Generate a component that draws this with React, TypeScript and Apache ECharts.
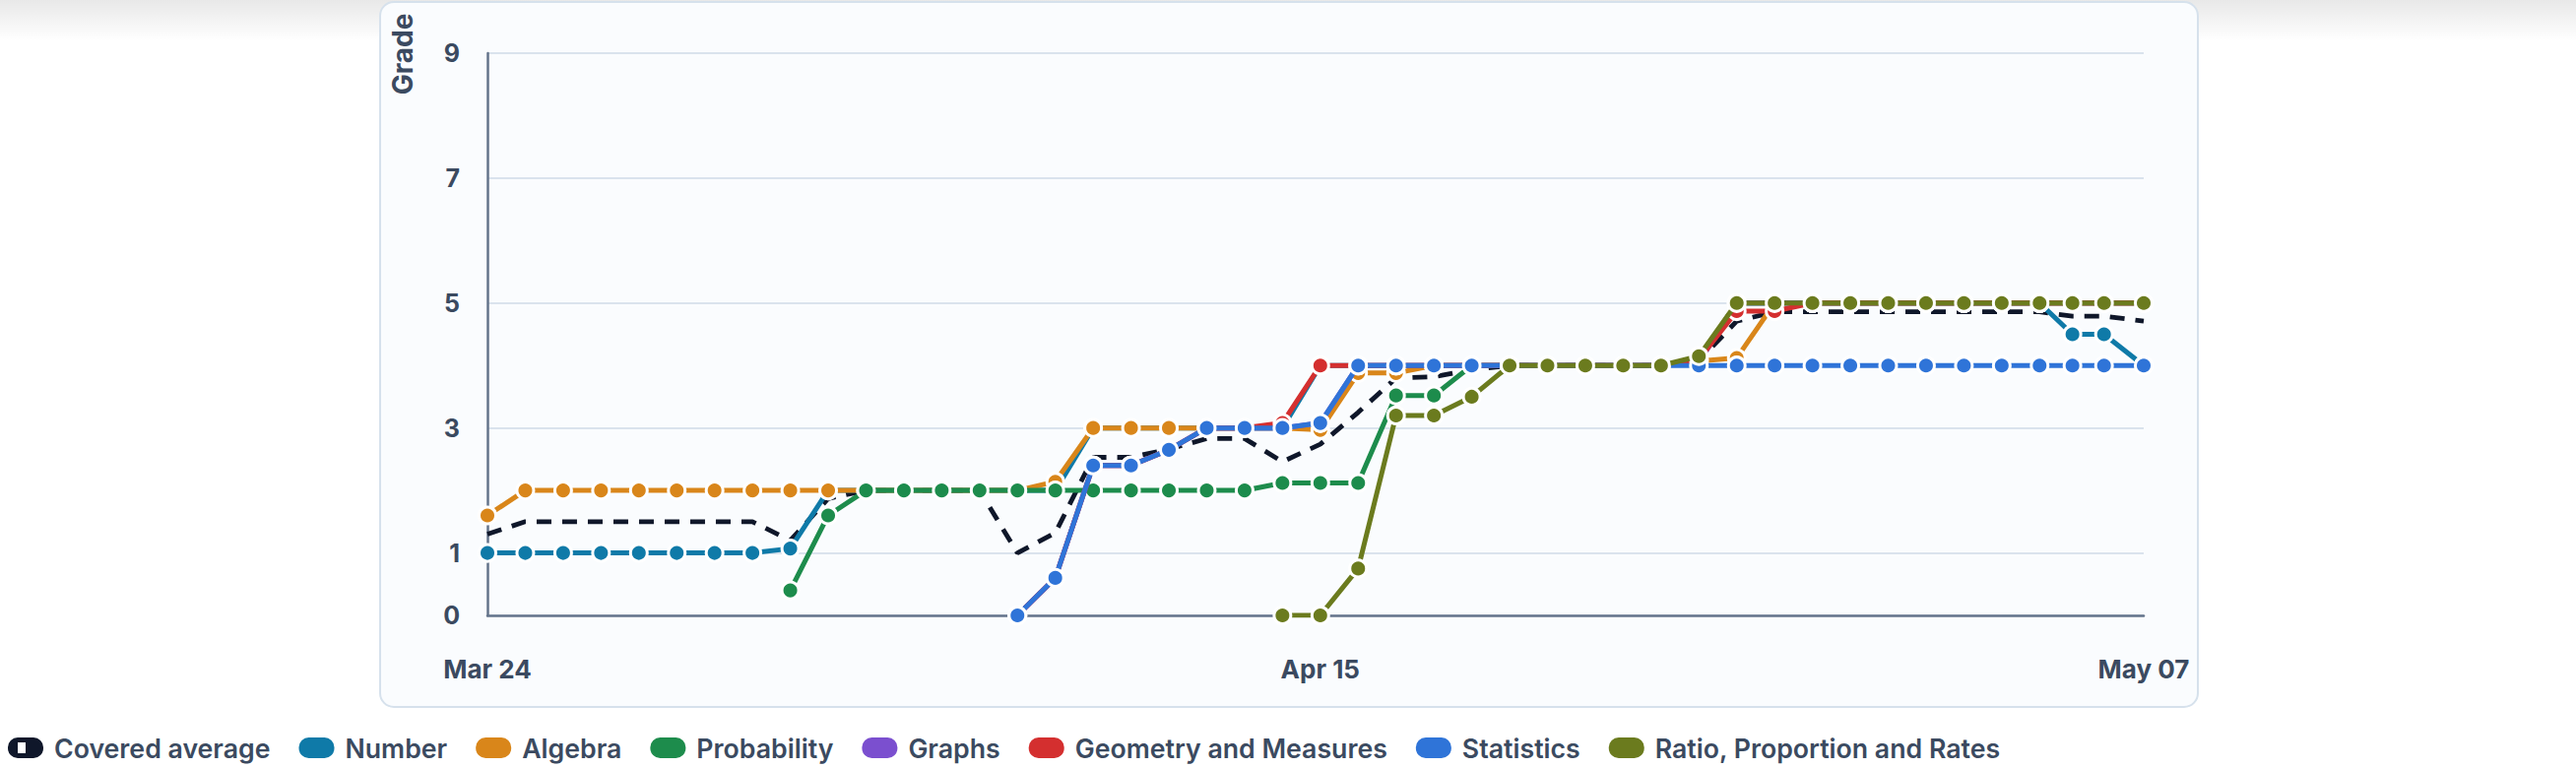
import React, { useEffect, useRef } from "react";
import * as echarts from "echarts";

// ---------- data ----------
const DATES = [
  "2024-03-24T12:00:00Z", "2024-03-25T12:00:00Z", "2024-03-26T12:00:00Z", "2024-03-27T12:00:00Z",
  "2024-03-28T12:00:00Z", "2024-03-29T12:00:00Z", "2024-03-30T12:00:00Z", "2024-03-31T12:00:00Z",
  "2024-04-01T12:00:00Z", "2024-04-02T12:00:00Z", "2024-04-03T12:00:00Z", "2024-04-04T12:00:00Z",
  "2024-04-05T12:00:00Z", "2024-04-06T12:00:00Z", "2024-04-07T12:00:00Z", "2024-04-08T12:00:00Z",
  "2024-04-09T12:00:00Z", "2024-04-10T12:00:00Z", "2024-04-11T12:00:00Z", "2024-04-12T12:00:00Z",
  "2024-04-13T12:00:00Z", "2024-04-14T12:00:00Z", "2024-04-15T12:00:00Z", "2024-04-16T12:00:00Z",
  "2024-04-17T12:00:00Z", "2024-04-18T12:00:00Z", "2024-04-19T12:00:00Z", "2024-04-20T12:00:00Z",
  "2024-04-21T12:00:00Z", "2024-04-22T12:00:00Z", "2024-04-23T12:00:00Z", "2024-04-24T12:00:00Z",
  "2024-04-25T12:00:00Z", "2024-04-26T12:00:00Z", "2024-04-27T12:00:00Z", "2024-04-28T12:00:00Z",
  "2024-04-29T12:00:00Z", "2024-04-30T12:00:00Z", "2024-05-01T12:00:00Z", "2024-05-02T12:00:00Z",
  "2024-05-03T12:00:00Z", "2024-05-04T12:00:00Z", "2024-05-05T08:50:00Z", "2024-05-06T04:50:00Z",
  "2024-05-07T06:00:00Z",
];

const X_TICK_DATES = ["2024-03-24T12:00:00Z", "2024-04-15T12:00:00Z", "2024-05-07T06:00:00Z"];
const Y_TICKS = [0, 1, 3, 5, 7, 9];
const MONTHS = ["Jan", "Feb", "Mar", "Apr", "May", "Jun", "Jul", "Aug", "Sep", "Oct", "Nov", "Dec"];
const Y_TITLE = "Grade";

const SERIES_NAMES = [
  "Covered average",
  "Number",
  "Algebra",
  "Probability",
  "Graphs",
  "Geometry and Measures",
  "Statistics",
  "Ratio, Proportion and Rates",
];
const COLORS = ["#0f172a", "#0f7aa8", "#d9861a", "#1d8c4c", "#7b4fcf", "#d42f2f", "#2f74d8", "#6b7b1e"];

const COVERED_AVERAGE = [
  1.3, 1.5, 1.5, 1.5, 1.5, 1.5, 1.5, 1.5, 1.2, 1.87,
  2, 2, 2, 2, 1.0, 1.32, 2.53, 2.53, 2.66, 2.83,
  2.83, 2.46, 2.74, 3.25, 3.8, 3.82, 3.93, 4, 4, 4,
  4, 4, 4.08, 4.71, 4.86, 4.86, 4.86, 4.86, 4.86, 4.86,
  4.86, 4.86, 4.79, 4.79, 4.71,
];
const NUMBER = [
  1, 1, 1, 1, 1, 1, 1, 1, 1.07, 2,
  2, 2, 2, 2, 2, 2, 3, 3, 3, 3,
  3, 3, 4, 4, 4, 4, 4, 4, 4, 4,
  4, 4, 4.1, 5, 5, 5, 5, 5, 5, 5,
  5, 5, 4.5, 4.5, 4,
];
const ALGEBRA = [
  1.6, 2, 2, 2, 2, 2, 2, 2, 2, 2,
  2, 2, 2, 2, 2, 2.14, 3, 3, 3, 3,
  3, 3, 2.97, 3.88, 3.88, 4, 4, 4, 4, 4,
  4, 4, 4.07, 4.12, 5, 5, 5, 5, 5, 5,
  5, 5, 5, 5, 5,
];
const PROBABILITY = [
  null, null, null, null, null, null, null, null, 0.4, 1.6,
  2, 2, 2, 2, 2, 2, 2, 2, 2, 2,
  2, 2.12, 2.12, 2.12, 3.52, 3.52, 4, 4, 4, 4,
  4, 4, 4.1, 5, 5, 5, 5, 5, 5, 5,
  5, 5, 5, 5, 5,
];
const GRAPHS = [
  null, null, null, null, null, null, null, null, null, null,
  null, null, null, null, 0, 0.6, 2.4, 2.4, 2.65, 3,
  3, 3, 3.08, 4, 4, 4, 4, 4, 4, 4,
  4, 4, 4.05, 5, 5, 5, 5, 5, 5, 5,
  5, 5, 5, 5, 5,
];
const GEOMETRY = [
  null, null, null, null, null, null, null, null, null, null,
  null, null, null, null, 0, 0.6, 2.4, 2.4, 2.65, 3,
  3, 3.08, 4, 4, 4, 4, 4, 4, 4, 4,
  4, 4, 4.1, 4.87, 4.87, 5, 5, 5, 5, 5,
  5, 5, 5, 5, 5,
];
const STATISTICS = [
  null, null, null, null, null, null, null, null, null, null,
  null, null, null, null, 0, 0.6, 2.4, 2.4, 2.65, 3,
  3, 3, 3.08, 4, 4, 4, 4, 4, 4, 4,
  4, 4, 4, 4, 4, 4, 4, 4, 4, 4,
  4, 4, 4, 4, 4,
];
const RATIO = [
  null, null, null, null, null, null, null, null, null, null,
  null, null, null, null, null, null, null, null, null, null,
  null, 0, 0, 0.75, 3.2, 3.2, 3.5, 4, 4, 4,
  4, 4, 4.15, 5, 5, 5, 5, 5, 5, 5,
  5, 5, 5, 5, 5,
];

const SERIES_VALUES = [COVERED_AVERAGE, NUMBER, ALGEBRA, PROBABILITY, GRAPHS, GEOMETRY, STATISTICS, RATIO];

const TEXT_COLOR = "#3b4a60";
const FONT = "Inter";

function fmtDate(v: number): string {
  const d = new Date(v);
  return MONTHS[d.getUTCMonth()] + " " + String(d.getUTCDate()).padStart(2, "0");
}

function buildOption(): any {
  const times = DATES.map((d) => Date.parse(d));
  const series = SERIES_NAMES.map((name, i) => {
    const data = times.map((t, k) => [t, SERIES_VALUES[i][k]]);
    if (i === 0) {
      return {
        name,
        type: "line",
        data,
        z: 2,
        symbol: "none",
        showSymbol: false,
        lineStyle: { color: COLORS[0], width: 4.8, type: [15, 11] },
        itemStyle: { color: COLORS[0] },
        emphasis: { disabled: true },
        silent: true,
      };
    }
    return {
      name,
      type: "line",
      data,
      z: 2 + i,
      symbol: "circle",
      symbolSize: 17,
      showSymbol: true,
      showAllSymbol: true,
      lineStyle: { color: COLORS[i], width: 5 },
      itemStyle: { color: COLORS[i], borderColor: "#ffffff", borderWidth: 3 },
      emphasis: { disabled: true },
      silent: true,
    };
  });

  const pill = "path://M10,0H26A10,10 0 0 1 36,10V11A10,10 0 0 1 26,21H10A10,10 0 0 1 0,11V10A10,10 0 0 1 10,0Z";
  // dark pill with a light window (legend box of the dashed average line)
  const pillWindow =
    "path://M10,0H26A10,10 0 0 1 36,10V11A10,10 0 0 1 26,21H10A10,10 0 0 1 0,11V10A10,10 0 0 1 10,0Z" +
    "M10,5V16H18V5Z";

  return {
    animation: false,
    backgroundColor: "#ffffff",
    textStyle: { fontFamily: FONT },
    graphic: [
      {
        type: "rect",
        z: -20,
        silent: true,
        shape: { x: 0, y: 0, width: 2616, height: 42 },
        style: {
          fill: new echarts.graphic.LinearGradient(0, 0, 0, 1, [
            { offset: 0, color: "rgba(0,0,0,0.09)" },
            { offset: 1, color: "rgba(0,0,0,0)" },
          ]),
        },
      },
      {
        type: "rect",
        z: -10,
        silent: true,
        shape: { x: 386, y: 2, width: 1846, height: 716, r: 14 },
        style: { fill: "#fafcfe", stroke: "#d6e1ec", lineWidth: 2 },
      },
      {
        type: "text",
        z: 5,
        silent: true,
        x: 409,
        y: 55,
        rotation: Math.PI / 2,
        style: {
          text: Y_TITLE,
          fill: TEXT_COLOR,
          font: "700 28px Inter",
          textAlign: "center",
          textVerticalAlign: "middle",
        },
      },
    ],
    grid: { left: 495, top: 54, width: 1682, height: 571, containLabel: false },
    xAxis: {
      type: "value",
      min: Date.parse(DATES[0]),
      max: Date.parse(DATES[DATES.length - 1]),
      axisLine: { show: true, lineStyle: { color: "#64748b", width: 2.5 } },
      axisTick: { show: false, customValues: X_TICK_DATES.map((d) => Date.parse(d)) },
      splitLine: { show: false },
      axisLabel: {
        customValues: X_TICK_DATES.map((d) => Date.parse(d)),
        formatter: (v: number) => fmtDate(v),
        fontSize: 26,
        fontWeight: 700,
        color: TEXT_COLOR,
        fontFamily: FONT,
        margin: 41,
        showMinLabel: true,
        showMaxLabel: true,
      },
    },
    yAxis: {
      type: "value",
      min: 0,
      max: 9,
      axisLine: { show: true, lineStyle: { color: "#64748b", width: 2.5 } },
      axisTick: { show: false, customValues: Y_TICKS },
      splitLine: { show: true, lineStyle: { color: "#dae3ed", width: 2 } },
      axisLabel: {
        customValues: Y_TICKS,
        fontSize: 25,
        fontWeight: 700,
        color: TEXT_COLOR,
        fontFamily: FONT,
        margin: 28,
      },
    },
    legend: {
      left: 3,
      top: 741,
      orient: "horizontal",
      itemWidth: 36,
      itemHeight: 21,
      itemGap: 29,
      icon: pill,
      selectedMode: false,
      itemStyle: { borderWidth: 0 },
      textStyle: {
        fontFamily: FONT,
        fontSize: 26.7,
        fontWeight: 600,
        color: TEXT_COLOR,
        padding: [0, 0, 0, 6],
      },
      data: SERIES_NAMES.map((n, i) =>
        i === 0
          ? { name: n, icon: pillWindow, itemStyle: { color: COLORS[0], borderWidth: 0 } }
          : { name: n }
      ),
    },
    series,
  };
}

export default function App() {
  const ref = useRef<HTMLDivElement>(null);
  useEffect(() => {
    if (!ref.current) return;
    const chart = echarts.init(ref.current, null, { renderer: "svg" });
    chart.setOption(buildOption());
    return () => {
      chart.dispose();
    };
  }, []);
  return (
    <div
      ref={ref}
      style={{ position: "fixed", left: 0, top: 0, width: 2616, height: 780, background: "#ffffff" }}
    />
  );
}
